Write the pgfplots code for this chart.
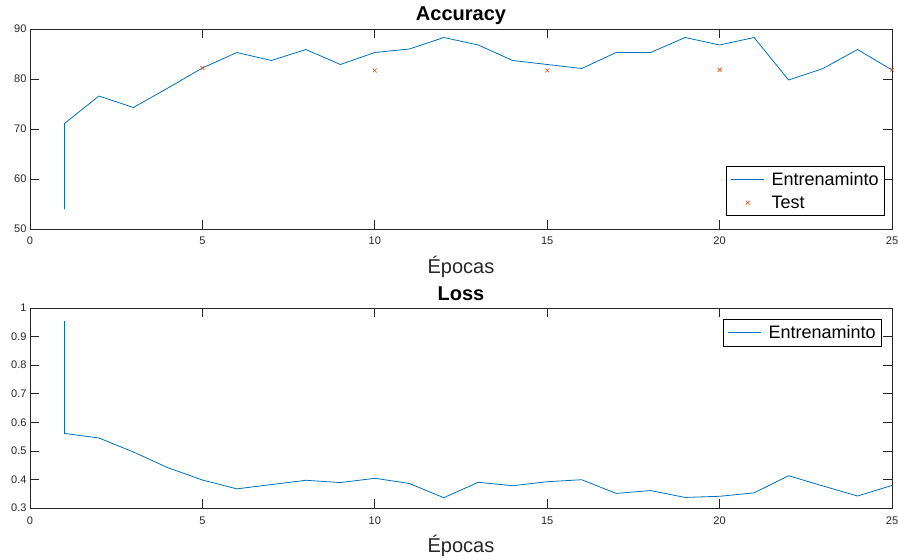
\documentclass[border=0pt]{standalone}
\usepackage{fontspec}
\setmainfont{Liberation Sans}
\usepackage{pgfplots}
\pgfplotsset{compat=1.18}
\definecolor{mblue}{rgb}{0,0.447,0.741}
\definecolor{morange}{rgb}{0.85,0.325,0.098}
\definecolor{maxis}{rgb}{0.15,0.15,0.15}
\pgfplotsset{mystyle/.style={
  scale only axis, width=862pt, height=200pt,
  xmin=0, xmax=25, xtick={0,5,...,25},
  axis line style={maxis, line width=0.7pt},
  tick align=inside, major tick length=9pt,
  tick style={maxis, line width=0.7pt},
  xtick pos=both, ytick pos=both,
  ticklabel style={font=\fontsize{11}{13}\selectfont, text=maxis},
  xticklabel style={anchor=base, yshift=-16pt},
  /pgf/number format/assume math mode=true,
  xlabel={Épocas},
  every axis x label/.style={at={(axis description cs:0.5,0)}, anchor=base, yshift=-44pt, font=\fontsize{20}{24}\selectfont, text=maxis},
  every axis title/.style={at={(axis description cs:0.5,1)}, anchor=base, yshift=8pt, font=\fontsize{20}{24}\selectfont\bfseries, text=black},
  legend style={font=\fontsize{18}{21}\selectfont, draw=black, line width=0.7pt, fill=white, inner xsep=4pt, inner ysep=4pt, row sep=5pt,
    /tikz/every odd column/.append style={column sep=5pt}},
  legend cell align=left,
  legend image code/.code={\draw[##1] (0pt,0pt) -- (33pt,0pt);},
  clip=false,
}}
\pgfplotsset{marklegend/.style={legend image code/.code={\draw[##1] plot coordinates {(16.5pt,0pt)};}}}
\begin{document}
\begin{tikzpicture}
\useasboundingbox (0pt,0pt) rectangle (898pt,558pt);
\begin{axis}[mystyle, at={(30pt,329pt)}, anchor=south west,
  title={Accuracy}, ymin=50, ymax=90, ytick={50,60,...,90},
  legend style={at={(0.9919,0.065)}, anchor=south east}]
\addplot[mblue, line width=0.8pt] coordinates {
(1,54.0) (1,71.1) (2,76.6) (3,74.3) (4,78.2) (5,82.2) (6,85.3) (7,83.7) (8,85.9) (9,82.9) (10,85.3)
(11,86.0) (12,88.3) (13,86.8) (14,83.7) (15,82.9) (16,82.1) (17,85.3) (18,85.3) (19,88.3) (20,86.8)
(21,88.3) (22,79.8) (23,82.1) (24,85.9) (25,81.8)};
\addlegendentry{Entrenaminto}
\addplot[morange, only marks, mark=x, mark size=2.8pt, line width=0.6pt, marklegend] coordinates {
(5,82.2) (10,81.7) (15,81.7) (20,81.85) (25,81.85)};
\addlegendentry{Test}
\end{axis}
\begin{axis}[mystyle, at={(30pt,50pt)}, anchor=south west,
  title={Loss}, ymin=0.3, ymax=1, ytick={0.3,0.4,...,1.0},
  yticklabel style={/pgf/number format/fixed},
  legend style={at={(0.9884,0.945)}, anchor=north east}]
\addplot[mblue, line width=0.8pt] coordinates {
(1,0.954) (1,0.561) (2,0.545) (3,0.496) (4,0.441) (5,0.398) (6,0.367) (7,0.382) (8,0.397) (9,0.389) (10,0.404)
(11,0.386) (12,0.336) (13,0.390) (14,0.378) (15,0.392) (16,0.399) (17,0.351) (18,0.361) (19,0.337) (20,0.341)
(21,0.353) (22,0.413) (23,0.377) (24,0.342) (25,0.379)};
\addlegendentry{Entrenaminto}
\end{axis}
\end{tikzpicture}
\end{document}
